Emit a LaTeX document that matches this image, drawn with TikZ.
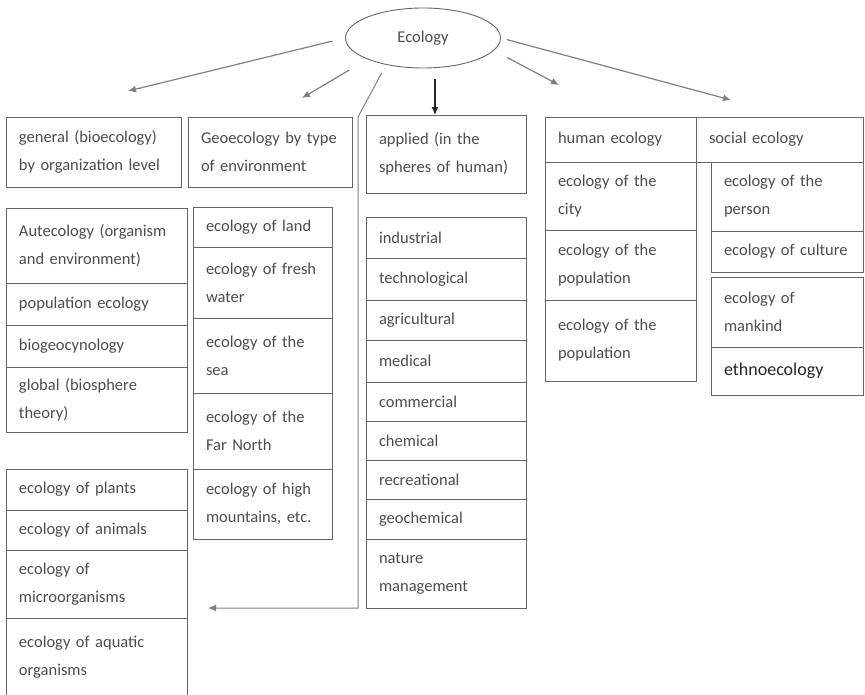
\documentclass[tikz,border=0pt]{standalone}
\usepackage{fontspec}
\setmainfont{Carlito}
\usetikzlibrary{arrows.meta, positioning, calc, shapes.geometric}

\begin{document}
\begin{tikzpicture}[
    x=1pt, y=-1pt,
    >=Latex,
    font=\fontsize{16.5}{28}\selectfont,
    cell/.style = {draw=black!60, line width=0.9pt, anchor=north west, align=left,
                   text=black!70, inner xsep=13pt, inner ysep=2pt, outer sep=0pt},
    col_gen/.style = {cell, minimum width=181pt, text width=155pt},
    col_geo/.style = {cell, minimum width=139pt, text width=113pt},
    col_app/.style = {cell, minimum width=160pt, text width=134pt},
    col_hum/.style = {cell, minimum width=151pt, text width=125pt},
    col_soc/.style = {cell, minimum width=152pt, text width=126pt},
    arr_grey/.style = {draw=black!50, line width=1.2pt, -{Latex[length=8pt,width=7pt]}},
    arr_dark/.style = {draw=black!85, line width=1.1pt, -{Latex[length=8pt,width=7pt]}},
]
\useasboundingbox (0,0) rectangle (865,694);

% Ecology
\node[draw=black!60, line width=0.9pt, ellipse, text=black!70,
      minimum width=155pt, minimum height=60pt] (eco) at (423,38) {Ecology};

% header row
\node[cell, minimum width=175pt, minimum height=70pt, text width=149pt]
     (hdGen) at (6,117) {general (bioecology)\\by organization level};
\node[cell, minimum width=164pt, minimum height=70pt, text width=138pt]
     (hdGeo) at (188,117) {Geoecology by type\\of environment};
\node[cell, minimum width=160pt, minimum height=78pt, text width=134pt]
     (hdApp) at (366,115) {applied (in the\\spheres of human)};
\node[cell, minimum width=151pt, minimum height=45pt, text width=125pt]
     (hdHum) at (545,117) {human ecology};
\node[cell, minimum width=167pt, minimum height=45pt, text width=141pt]
     (hdSoc) at (696,117) {social ecology};

% general (bioecology)
\node[col_gen, minimum height=75pt] (aut) at (6,208) {Autecology (organism\\and environment)};
\node[col_gen, minimum height=42pt] (popEco) at (6,283) {population ecology};
\node[col_gen, minimum height=42pt] (biogeo) at (6,325) {biogeocynology};
\node[col_gen, minimum height=65pt] (glob) at (6,367) {global (biosphere\\theory)};

\node[col_gen, minimum height=41pt] (plants) at (6,469) {ecology of plants};
\node[col_gen, minimum height=40pt] (animals) at (6,510) {ecology of animals};
\node[col_gen, minimum height=68pt] (micro) at (6,550) {ecology of\\microorganisms};
\node[col_gen, minimum height=78pt] (aqua) at (6,618) {ecology of aquatic\\organisms};

% geoecology
\node[col_geo, minimum height=40pt] (land) at (193,207) {ecology of land};
\node[col_geo, minimum height=71pt] (fresh) at (193,247) {ecology of fresh\\water};
\node[col_geo, minimum height=75pt] (sea) at (193,318) {ecology of the\\sea};
\node[col_geo, minimum height=76pt] (north) at (193,393) {ecology of the\\Far North};
\node[col_geo, minimum height=70pt] (mount) at (193,469) {ecology of high\\mountains, etc.};

% applied
\node[col_app, minimum height=41pt] (ind) at (366,217) {industrial};
\node[col_app, minimum height=42pt] (tech) at (366,258) {technological};
\node[col_app, minimum height=40pt] (agri) at (366,300) {agricultural};
\node[col_app, minimum height=42pt] (med) at (366,340) {medical};
\node[col_app, minimum height=39pt] (comm) at (366,382) {commercial};
\node[col_app, minimum height=39pt] (chem) at (366,421) {chemical};
\node[col_app, minimum height=39pt] (recr) at (366,460) {recreational};
\node[col_app, minimum height=40pt] (geoch) at (366,499) {geochemical};
\node[col_app, minimum height=69pt] (nat) at (366,539) {nature\\management};

% human ecology
\node[col_hum, minimum height=68pt] (city) at (545,162) {ecology of the\\city};
\node[col_hum, minimum height=70pt] (popA) at (545,230) {ecology of the\\population};
\node[col_hum, minimum height=81pt] (popB) at (545,300) {ecology of the\\population};

% social ecology
\node[col_soc, minimum height=69pt] (person) at (711,162) {ecology of the\\person};
\node[col_soc, minimum height=41pt] (cult) at (711,231) {ecology of culture};
\node[col_soc, minimum height=70pt] (mank) at (711,277) {ecology of\\mankind};
\node[col_soc, minimum height=48pt, text=black!85,
      font=\fontsize{18}{28}\selectfont] (ethno) at (711,347) {ethnoecology};

% arrow ends
\coordinate (tipGen) at (128,91);
\coordinate (tipGeo) at (302,98);
\coordinate (tipHum) at (559,85);
\coordinate (tipSoc) at (731,100);
\coordinate (bend) at (358,117);
\coordinate (tipBio) at (208,608);

% arrows from Ecology
\draw[arr_grey, shorten <=13pt] (eco.180) -- (tipGen);
\draw[arr_grey, shorten <=21pt] (eco.201) -- (tipGeo);
\draw[arr_dark, shorten <=11pt] ([xshift=-11pt]hdApp.north |- eco.south) -- ([xshift=-11pt]hdApp.north);
\draw[arr_grey, shorten <=15pt] (eco.350) -- (tipHum);
\draw[arr_grey, shorten <=6pt] (eco.east) -- (tipSoc);

% long line down to the lower left group
\draw[arr_grey, line width=1pt, shorten <=9pt] (eco.216) -- (bend) |- (tipBio);

\end{tikzpicture}
\end{document}
